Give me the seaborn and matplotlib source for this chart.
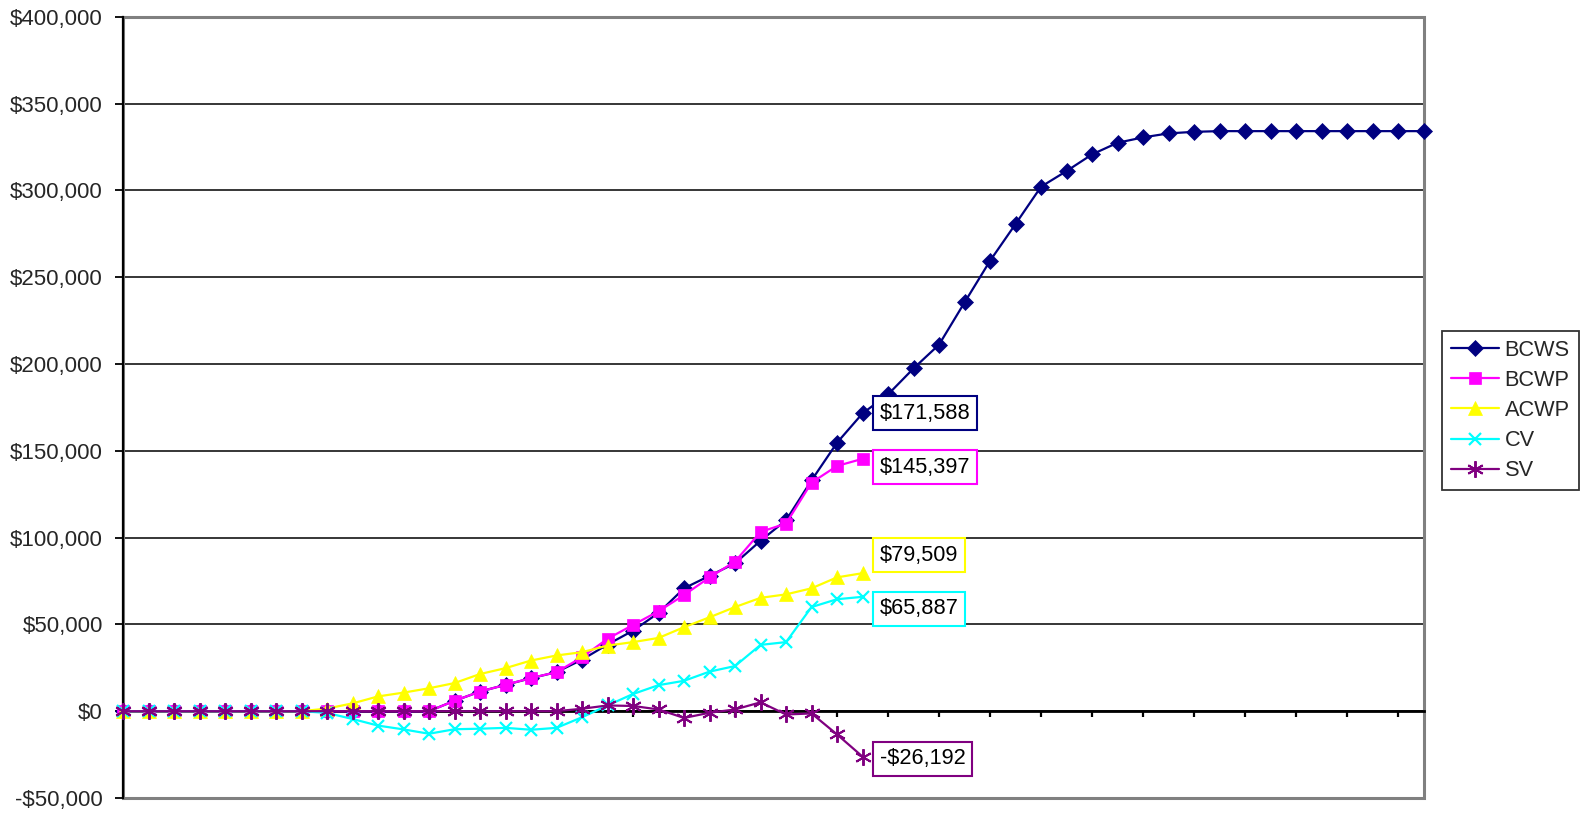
import numpy as np
import matplotlib
matplotlib.use('Agg')
from matplotlib import pyplot as plt
from matplotlib.patches import Rectangle
from matplotlib.ticker import FuncFormatter
import seaborn as sns

# periods 0..51, earned value data
bcws = [0] * 13 + [6000, 11300, 15200, 19000, 22500, 29700, 38400, 46400, 56600,
                   70800, 78000, 85200, 98200, 110000, 133000, 154700, 171588,
                   182500, 197500, 211200, 235500, 259500, 280700, 302200, 311200,
                   320800, 327500, 330600, 332900, 333800] + [334200] * 9
bcwp = [0] * 13 + [6000, 11300, 15200, 19100, 22500, 31100, 41700, 49700, 57600,
                   66900, 77100, 86200, 103300, 108100, 131700, 141300, 145397]
acwp = [0] * 8 + [1500, 4500, 8500, 10700, 13200, 16200, 21400, 24800, 29200, 32100,
                  34000, 37800, 39800, 42200, 48400, 54100, 60000, 65300, 67300,
                  70800, 77100, 79509]
cv = [0] * 8 + [-1000, -4500, -8300, -10500, -13000, -10400, -10100, -9600, -10700,
                -9600, -3500, 3300, 9900, 15000, 17500, 22800, 26000, 38200, 39800,
                60000, 64500, 65887]
sv = [0] * 18 + [1400, 3300, 3000, 1000, -3900, -900, 1000, 5100, -1900, -1300,
                 -13400, -26192]

names = ['BCWS', 'BCWP', 'ACWP', 'CV', 'SV']
colors = ['#000080', '#FF00FF', '#FFFF00', '#00FFFF', '#800080']
markers = ['D', 's', '^', 'x', (6, 2, 0)]
msizes = [8.5, 9, 10, 9, 12]
medges = [0.5, 0.5, 0.5, 1.6, 1.4]
label_text = ['$171,588', '$145,397', '$79,509', '$65,887', '-$26,192']
label_dy = [0, -6, 13, -8.5, -1.5]

sns.set_theme(style='white')
plt.rcParams['font.family'] = ['Liberation Sans', 'DejaVu Sans']

fig = plt.figure(figsize=(15.83, 8.14), dpi=100)
ax = fig.add_axes([0.0777, 0.0197, 0.8216, 0.9595])

series = [bcws, bcwp, acwp, cv, sv]
for vals, name, c, m, ms, mew in zip(series, names, colors, markers, msizes, medges):
    x = np.arange(len(vals))
    sns.lineplot(x=x, y=vals, ax=ax, color=c, marker=m, markersize=ms,
                 markeredgecolor=None, markeredgewidth=mew,
                 linewidth=1.6, label=name, errorbar=None, clip_on=False, zorder=3)

# value boxes at the last reported period
for vals, txt, c, dy in zip(series, label_text, colors, label_dy):
    ax.annotate(txt, xy=(29, vals[29]), xytext=(12.5, dy), textcoords='offset points',
                ha='left', va='center', fontsize=15.7, color='black', zorder=5,
                bbox=dict(boxstyle='square,pad=0.3', fc='white', ec=c, lw=1.5))

ax.set_xlim(0, 51)
ax.set_ylim(-50000, 400000)
ax.set_yticks(np.arange(-50000, 400001, 50000))
ax.yaxis.set_major_formatter(FuncFormatter(
    lambda v, p: ('-$' if v < 0 else '$') + f'{abs(v):,.0f}'))
ax.set_xticks(np.arange(0, 52, 2))
ax.set_xticklabels([])
ax.set_xlabel('')
ax.set_ylabel('')

ax.yaxis.grid(True, color='black', linewidth=1.1)
ax.xaxis.grid(False)

# grey plot-area frame, black value axis and zero category axis
ax.add_patch(Rectangle((0, 0), 1, 1, transform=ax.transAxes, fill=False,
                       edgecolor='#808080', linewidth=2.2, clip_on=False, zorder=2.4))
for s in ['top', 'right']:
    ax.spines[s].set_visible(False)
ax.spines['left'].set_color('black')
ax.spines['left'].set_linewidth(1.6)
ax.spines['bottom'].set_position(('data', 0))
ax.spines['bottom'].set_color('black')
ax.spines['bottom'].set_linewidth(2.0)

ax.tick_params(axis='y', direction='out', length=6, width=1.3, color='black',
               labelsize=16, pad=8.5, left=True)
ax.tick_params(axis='x', direction='out', length=4.5, width=1.6, color='black',
               bottom=True)

leg = ax.legend(loc='center left', bbox_to_anchor=(0.911, 0.4957),
                bbox_transform=fig.transFigure, frameon=True, fancybox=False,
                fontsize=15.7, handlelength=2.2, handletextpad=0.25,
                labelspacing=0.42, borderpad=0.42, borderaxespad=0)
leg.get_frame().set_edgecolor('black')
leg.get_frame().set_linewidth(1.3)

fig.savefig('out.png', dpi=100, facecolor='white')
